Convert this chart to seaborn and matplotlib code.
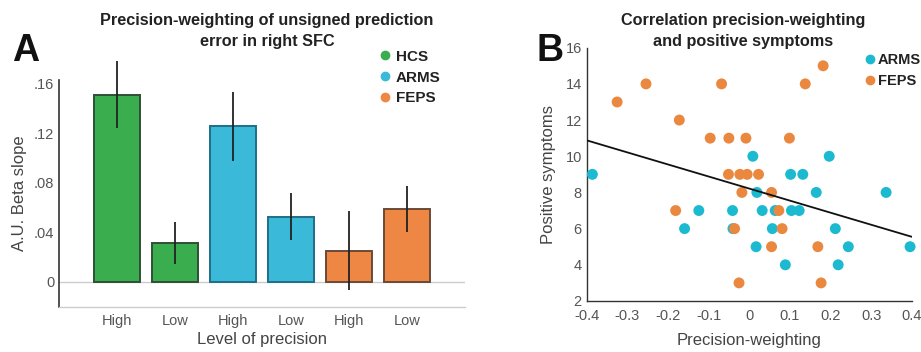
import numpy as np
import pandas as pd
import matplotlib
matplotlib.use("Agg")
import matplotlib.pyplot as plt
from matplotlib.lines import Line2D
from matplotlib import font_manager
import seaborn as sns

# ---------------- data ----------------
groups = ["HCS", "HCS", "ARMS", "ARMS", "FEPS", "FEPS"]
levels = ["High", "Low", "High", "Low", "High", "Low"]
beta = [0.151, 0.0315, 0.1256, 0.0524, 0.0247, 0.0586]
err_low = [0.1242, 0.0148, 0.0973, 0.0336, -0.0067, 0.0403]
err_high = [0.1783, 0.0484, 0.1533, 0.0713, 0.0573, 0.0774]
yticks_a = [0, 0.04, 0.08, 0.12, 0.16]
yticklabels_a = ["0", ".04", ".08", ".12", ".16"]

arms_x = [-0.386, 0.009, 0.102, 0.132, 0.197, 0.019, 0.165, 0.337, -0.124, -0.041,
          0.032, 0.064, 0.104, 0.123, -0.159, -0.040, 0.057, 0.212, 0.017, 0.244,
          0.396, 0.089, 0.219]
arms_y = [9, 10, 9, 9, 10, 8, 8, 8, 7, 7, 7, 7, 7, 7, 6, 6, 6, 6, 5, 5, 5, 4, 4]
feps_x = [0.182, -0.325, -0.254, -0.068, 0.138, -0.172, -0.096, -0.050, -0.008, 0.099,
          -0.051, -0.023, -0.005, 0.023, -0.018, 0.055, -0.181, 0.073, -0.036, 0.081,
          0.055, 0.169, -0.025, 0.177]
feps_y = [15, 13, 14, 14, 14, 12, 11, 11, 11, 11, 9, 9, 9, 9, 8, 8, 7, 7, 6, 6, 5, 5, 3, 3]
fit_x = [-0.4, 0.4]
fit_y = [10.88, 5.55]

# ---------------- style ----------------
sns.set_theme(style="white")
avail = {f.name for f in font_manager.fontManager.ttflist}
fam = ["Liberation Sans", "DejaVu Sans"]
fam = [f for f in fam if f in avail] + ["DejaVu Sans"]
plt.rcParams["font.family"] = fam

colors = {"HCS": "#3aae4f", "ARMS": "#3bb9d9", "FEPS": "#ee8744"}
edges = {"HCS": "#2f4f36", "ARMS": "#1d6f86", "FEPS": "#6b4a36"}
scat_colors = {"ARMS": "#1cbad0", "FEPS": "#eb8840"}
tick_col = "#555555"
lab_col = "#444444"
TICK_FS = 10.5
LAB_FS = 12
TITLE_FS = 11.7
LEG_FS = 11

fig = plt.figure(figsize=(9.21, 3.52), dpi=100)

# ---------------- Panel A ----------------
axA = fig.add_axes([0.0641, 0.1278, 0.4405, 0.6458])
ids = [f"{g} {l}" for g, l in zip(groups, levels)]
dfA = pd.DataFrame({"id": ids, "group": groups, "beta": beta})
sns.barplot(data=dfA, x="id", y="beta", hue="group", order=ids, palette=colors,
            dodge=False, width=0.79, errorbar=None, legend=False, ax=axA,
            saturation=1, linewidth=1.4)
for patch, g in zip(axA.patches, groups):
    patch.set_edgecolor(edges[g])
    patch.set_zorder(2)
for i, (lo, hi) in enumerate(zip(err_low, err_high)):
    axA.vlines(i, lo, hi, color="#222222", lw=1.3, zorder=3, clip_on=False)
axA.axhline(0, color="#cccccc", lw=1.0, zorder=1)
axA.set_xlim(-1, 6)
axA.set_ylim(-0.0202, 0.163)
axA.set_yticks(yticks_a)
axA.set_yticklabels(yticklabels_a)
axA.set_xticks(range(6))
axA.set_xticklabels(levels)
axA.tick_params(axis="both", direction="in", length=3, width=0.8, colors="#bbbbbb",
                labelcolor=tick_col, labelsize=TICK_FS)
axA.tick_params(axis="x", pad=5)
for s in ["top", "right"]:
    axA.spines[s].set_visible(False)
axA.spines["left"].set_color("#333333")
axA.spines["left"].set_linewidth(1.2)
axA.spines["bottom"].set_color("#cccccc")
axA.spines["bottom"].set_linewidth(1.0)
axA.set_xlabel("Level of precision", fontsize=LAB_FS, color=lab_col, labelpad=3)
axA.set_ylabel("A.U. Beta slope", fontsize=LAB_FS, color=lab_col, labelpad=5)

fig.text(267 / 921, 1 - 31 / 352, "Precision-weighting of unsigned prediction\nerror in right SFC",
         ha="center", va="center", fontsize=TITLE_FS, fontweight="bold", color="#222222",
         linespacing=1.45)
fig.text(12 / 921, 1 - 61 / 352, "A", fontsize=27, fontweight="heavy", color="#111111",
         ha="left", va="baseline")

handlesA = [Line2D([], [], marker="o", ls="", color=colors[g], markersize=6) for g in ["HCS", "ARMS", "FEPS"]]
legA = axA.legend(handlesA, ["HCS", "ARMS", "FEPS"], loc="upper left",
                  bbox_to_anchor=(373 / 921, 1 - 42 / 352), bbox_transform=fig.transFigure,
                  frameon=False, handlelength=0.6, handletextpad=0.4, labelspacing=0.45,
                  borderpad=0, prop={"weight": "bold", "size": LEG_FS})
for t in legA.get_texts():
    t.set_color("#222222")

# ---------------- Panel B ----------------
axB = fig.add_axes([0.637, 0.1449, 0.3529, 0.7196])
dfB = pd.DataFrame({
    "pw": arms_x + feps_x,
    "pos": arms_y + feps_y,
    "group": ["ARMS"] * len(arms_x) + ["FEPS"] * len(feps_x),
})
sns.scatterplot(data=dfB, x="pw", y="pos", hue="group", palette=scat_colors, s=62,
                linewidth=0, legend=False, ax=axB, zorder=3, clip_on=False)
axB.plot(fit_x, fit_y, color="#111111", lw=1.3, zorder=4)
axB.set_xlim(-0.4, 0.4)
axB.set_ylim(2, 16)
axB.set_xticks(np.round(np.arange(-0.4, 0.41, 0.1), 1))
axB.set_xticklabels(["-0.4", "-0.3", "-0.2", "-0.1", "0", "0.1", "0.2", "0.3", "0.4"])
axB.set_yticks(range(2, 17, 2))
axB.tick_params(axis="both", direction="in", length=3, width=0.8, colors="#555555",
                labelcolor=tick_col, labelsize=TICK_FS)
axB.tick_params(axis="x", pad=6)
for s in ["top", "right"]:
    axB.spines[s].set_visible(False)
for s in ["left", "bottom"]:
    axB.spines[s].set_color("#333333")
    axB.spines[s].set_linewidth(1.0)
axB.set_xlabel("Precision-weighting", fontsize=LAB_FS, color=lab_col, labelpad=7)
axB.set_ylabel("Positive symptoms", fontsize=LAB_FS, color=lab_col, labelpad=7)

fig.text(743 / 921, 1 - 31 / 352, "Correlation precision-weighting\nand positive symptoms",
         ha="center", va="center", fontsize=TITLE_FS, fontweight="bold", color="#222222",
         linespacing=1.45)
fig.text(536 / 921, 1 - 61 / 352, "B", fontsize=27, fontweight="heavy", color="#111111",
         ha="left", va="baseline")

handlesB = [Line2D([], [], marker="o", ls="", color=scat_colors[g], markersize=6) for g in ["ARMS", "FEPS"]]
legB = axB.legend(handlesB, ["ARMS", "FEPS"], loc="upper left",
                  bbox_to_anchor=(858 / 921, 1 - 46 / 352), bbox_transform=fig.transFigure,
                  frameon=False, handlelength=0.6, handletextpad=0.25, labelspacing=0.45,
                  borderpad=0, prop={"weight": "bold", "size": 10.5})
for t in legB.get_texts():
    t.set_color("#222222")

fig.savefig("out.png", dpi=100)
